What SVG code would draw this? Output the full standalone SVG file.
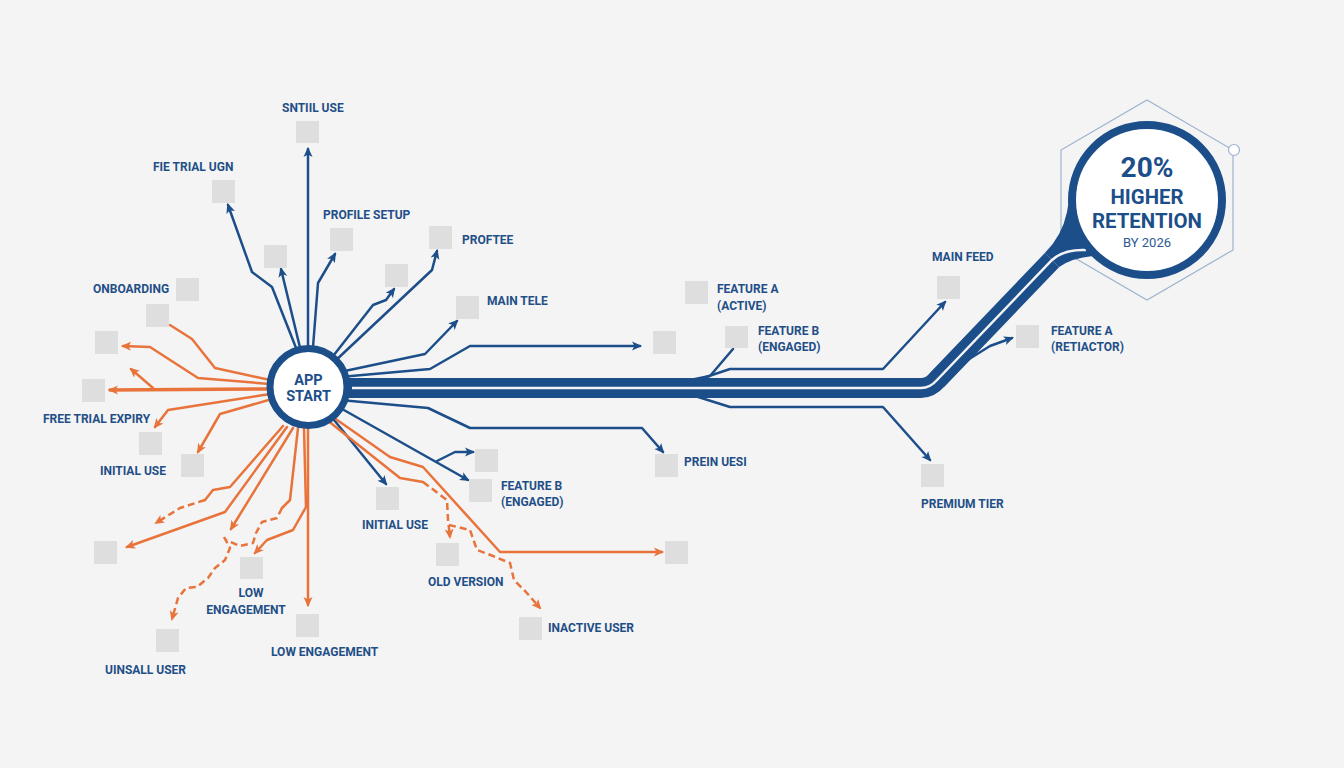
<svg xmlns="http://www.w3.org/2000/svg" width="1344" height="768" viewBox="0 0 1344 768">
<defs>
<style>
.bg{fill:#f4f4f5}
.sq{fill:#dedede}
.lbl{font-family:Roboto,"Liberation Sans",sans-serif;font-weight:700;font-size:12px;fill:#1f4f86}
.b{fill:none;stroke:#1c4e89;stroke-width:2.5;stroke-linejoin:round;stroke-linecap:round}
.o{fill:none;stroke:#e8733b;stroke-width:2.5;stroke-linejoin:round;stroke-linecap:round}
.d{stroke-dasharray:7 4;stroke-linecap:butt}
.ab{marker-end:url(#ah-b)}
.ao{marker-end:url(#ah-o)}
.big{font-family:Roboto,"Liberation Sans",sans-serif;font-weight:700;fill:#1c4e89}
</style>
<marker id="ah-b" viewBox="0 0 10 10" refX="8" refY="5" markerWidth="10" markerHeight="10" markerUnits="userSpaceOnUse" orient="auto"><path d="M0,0.5 L10,5 L0,9.5 L2.5,5 z" fill="#1c4e89"/></marker>
<marker id="ah-o" viewBox="0 0 10 10" refX="8" refY="5" markerWidth="10" markerHeight="10" markerUnits="userSpaceOnUse" orient="auto"><path d="M0,0.5 L10,5 L0,9.5 L2.5,5 z" fill="#e8733b"/></marker>
</defs>
<rect class="bg" x="0" y="0" width="1344" height="768"/>

<g id="hexagon">
<polygon points="1147,100 1233,150 1233,250 1147,300 1061,250 1061,150" fill="none" stroke="#9db3cc" stroke-width="1.2"/>
<circle cx="1234" cy="150" r="5.5" fill="#ffffff" stroke="#9db3cc" stroke-width="1.2"/>
</g>

<g id="connectors">
<path class="b ab" d="M308 380 L308 149"/>
<path class="b ab" d="M300 358 L272 287 L252 272 L228 205"/>
<path class="b ab" d="M303 360 L281 269"/>
<path class="b ab" d="M312 360 L318 283 L335 254"/>
<path class="b ab" d="M330 360 L373 305 L386 300 L394 289"/>
<path class="b ab" d="M334 362 L432 270 L437 251"/>
<path class="b ab" d="M340 372 L425 354 L457 321"/>
<path class="b ab" d="M340 377 L430 369 L470 346 L640 346"/>
<path class="b ab" d="M340 400 L428 408 L470 428 L642 428 L663 452"/>
<path class="b ab" d="M335 405 L468 480"/>
<path class="b ab" d="M437 461 L455 452 L473 452"/>
<path class="b ab" d="M330 415 L386 484"/>
<path class="b" d="M685 381 L710 376 L733 349"/>
<path class="b ab" d="M700 379 L730 369 L883 369 L945 302"/>
<path class="b ab" d="M695 396 L730 407 L883 407 L930 460"/>
<path class="b ab" d="M958 366 L990 346 L1012 338"/>
<path class="o" d="M270 380 L215 368 L192 339 L170 325"/>
<path class="o ao" d="M270 384 L198 378 L150 347 L123 346"/>
<path class="o ao" d="M153 388 L131 369"/>
<path class="o ao" style="stroke-width:3.5" d="M268 389 L110 390"/>
<path class="o ao" d="M270 394 L168 410 L155 427"/>
<path class="o ao" d="M272 399 L220 414 L198 452"/>
<path class="o" d="M283 426 L230 487 L213 490 L205 500"/>
<path class="o d ao" d="M205 500 L180 508 L156 523"/>
<path class="o ao" d="M287 427 L225 512 L127 547"/>
<path class="o ao" d="M293 428 L231 529"/>
<path class="o d ao" d="M224 537 L230 548 L225 560 L215 568 L208 578 L197 587 L186 588 L178 598 L172 619"/>
<path class="o" d="M298 428 L290 500 L282 508"/>
<path class="o d" d="M282 508 L277 518 L262 522 L256 533 L253 543 L240 546 L226 540"/>
<path class="o ao" d="M304 428 L306 507 L293 530 L267 540 L255 553"/>
<path class="o ao" d="M308 428 L308 605"/>
<path class="o ao" d="M330 415 L390 457 L423 467 L500 552 L662 552"/>
<path class="o" d="M327 420 L400 478 L423 482"/>
<path class="o d ao" d="M423 482 L447 500 L448 520 L450 537"/>
<path class="o d ao" d="M449 525 L470 530 L477 550 L493 556 L510 563 L514 580 L526 592 L540 608"/>
</g>

<g id="trunk">
<path d="M345 388 L921 388 Q930 388 937 380 L1052 260" fill="none" stroke="#1c4e89" stroke-width="20" stroke-linejoin="round"/>
<path d="M1044.8 253.1 Q1062 236 1067 212 L1069 200 A78 78 0 0 0 1093 256 Q1072 258 1059.2 266.9 Z" fill="#1c4e89"/>
<path d="M352 388 L921 388 Q930 388 937 380 L1052 260 Q1064 249 1086 250" fill="none" stroke="#f4f4f5" stroke-width="2.5"/>
</g>

<g id="retention">
<circle cx="1147" cy="200" r="75" fill="#ffffff" stroke="#1c4e89" stroke-width="8"/>
<text class="big" x="1147" y="177" text-anchor="middle" font-size="28">20%</text>
<text class="big" x="1147" y="204" text-anchor="middle" font-size="20" textLength="73" lengthAdjust="spacingAndGlyphs">HIGHER</text>
<text class="big" x="1147" y="228" text-anchor="middle" font-size="20" textLength="110" lengthAdjust="spacingAndGlyphs">RETENTION</text>
<text x="1147" y="247" text-anchor="middle" font-family="Roboto,'Liberation Sans',sans-serif" font-size="13" fill="#2a5a92">BY 2026</text>
</g>

<g id="app-start">
<circle cx="308.5" cy="387" r="38.5" fill="#ffffff" stroke="#1c4e89" stroke-width="7"/>
<text class="big" x="308.5" y="385" text-anchor="middle" font-size="14.5">APP</text>
<text class="big" x="308.5" y="401" text-anchor="middle" font-size="14.5">START</text>
</g>

<g id="n-sntiil-use"><rect class="sq" x="296" y="121" width="23" height="22"/><text class="lbl" x="282" y="112">SNTIIL USE</text></g>
<g id="n-fie-trial"><rect class="sq" x="212" y="180" width="23" height="23"/><text class="lbl" x="153" y="171">FIE TRIAL UGN</text></g>
<g id="n-sq3"><rect class="sq" x="264" y="245" width="23" height="23"/></g>
<g id="n-profile-setup"><rect class="sq" x="330" y="228" width="23" height="23"/><text class="lbl" x="323" y="219">PROFILE SETUP</text></g>
<g id="n-proftee"><rect class="sq" x="429" y="226" width="23" height="23"/><text class="lbl" x="462" y="244">PROFTEE</text></g>
<g id="n-sq6"><rect class="sq" x="385" y="264" width="23" height="23"/></g>
<g id="n-main-tele"><rect class="sq" x="456" y="296" width="23" height="23"/><text class="lbl" x="487" y="305">MAIN TELE</text></g>
<g id="n-onboarding"><rect class="sq" x="176" y="278" width="23" height="23"/><text class="lbl" x="93" y="293">ONBOARDING</text></g>
<g id="n-sq9"><rect class="sq" x="146" y="304" width="23" height="23"/></g>
<g id="n-sq10"><rect class="sq" x="95" y="331" width="23" height="23"/></g>
<g id="n-sq11"><rect class="sq" x="82" y="379" width="23" height="23"/></g>
<g id="n-free-trial-expiry"><rect class="sq" x="139" y="432" width="23" height="23"/><text class="lbl" x="43" y="423">FREE TRIAL EXPIRY</text></g>
<g id="n-initial-use-left"><rect class="sq" x="181" y="454" width="23" height="23"/><text class="lbl" x="100" y="475">INITIAL USE</text></g>
<g id="n-sq14"><rect class="sq" x="94" y="541" width="23" height="23"/></g>
<g id="n-low-engagement-1"><rect class="sq" x="240" y="557" width="23" height="22"/><text class="lbl" x="251" y="597" text-anchor="middle">LOW</text><text class="lbl" x="246" y="614" text-anchor="middle">ENGAGEMENT</text></g>
<g id="n-low-engagement-2"><rect class="sq" x="296" y="614" width="23" height="23"/><text class="lbl" x="271" y="656">LOW ENGAGEMENT</text></g>
<g id="n-uinsall-user"><rect class="sq" x="156" y="629" width="23" height="23"/><text class="lbl" x="105" y="674">UINSALL USER</text></g>
<g id="n-initial-use-right"><rect class="sq" x="376" y="487" width="23" height="23"/><text class="lbl" x="362" y="529">INITIAL USE</text></g>
<g id="n-sq19"><rect class="sq" x="475" y="449" width="23" height="23"/></g>
<g id="n-feature-b-lower"><rect class="sq" x="469" y="479" width="23" height="23"/><text class="lbl" x="501" y="490">FEATURE B</text><text class="lbl" x="501" y="506">(ENGAGED)</text></g>
<g id="n-old-version"><rect class="sq" x="436" y="543" width="23" height="23"/><text class="lbl" x="428" y="586">OLD VERSION</text></g>
<g id="n-sq22"><rect class="sq" x="665" y="541" width="23" height="23"/></g>
<g id="n-inactive-user"><rect class="sq" x="519" y="617" width="23" height="23"/><text class="lbl" x="548" y="632">INACTIVE USER</text></g>
<g id="n-prein-uesi"><rect class="sq" x="655" y="454" width="23" height="23"/><text class="lbl" x="684" y="466">PREIN UESI</text></g>
<g id="n-feature-a-active"><rect class="sq" x="685" y="281" width="23" height="23"/><text class="lbl" x="717" y="293">FEATURE A</text><text class="lbl" x="717" y="310">(ACTIVE)</text></g>
<g id="n-sq26"><rect class="sq" x="653" y="331" width="23" height="23"/></g>
<g id="n-feature-b-upper"><rect class="sq" x="725" y="326" width="23" height="22"/><text class="lbl" x="758" y="335">FEATURE B</text><text class="lbl" x="758" y="351">(ENGAGED)</text></g>
<g id="n-main-feed"><rect class="sq" x="937" y="276" width="23" height="23"/><text class="lbl" x="932" y="261">MAIN FEED</text></g>
<g id="n-premium-tier"><rect class="sq" x="921" y="464" width="23" height="23"/><text class="lbl" x="921" y="508">PREMIUM TIER</text></g>
<g id="n-feature-a-retiactor"><rect class="sq" x="1016" y="325" width="23" height="23"/><text class="lbl" x="1051" y="335">FEATURE A</text><text class="lbl" x="1051" y="351">(RETIACTOR)</text></g>
</svg>
